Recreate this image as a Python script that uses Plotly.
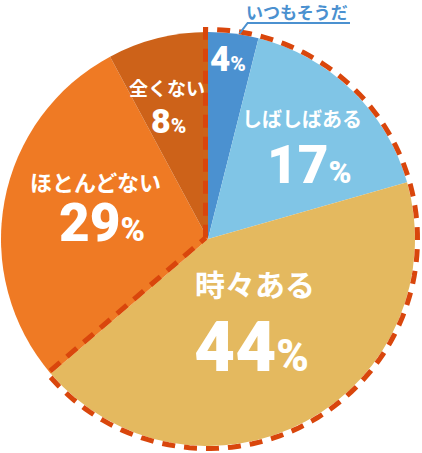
import numpy as np
import plotly.graph_objects as go

W, H = 422, 453

# data (clockwise from 12 o'clock)
labels = ["いつもそうだ", "しばしばある", "時々ある", "ほとんどない", "全くない"]
values = [4, 17, 44, 29, 8]
colors = ["#4b91d0", "#80c5e6", "#e4b95f", "#ef7a24", "#cd6219"]
highlight_n = 3  # first three slices = "ever"

# pie geometry in pixels
CX, CY, R = 208, 239, 207
JP_FONT = "Noto Sans CJK JP"
NUM_FONT = "Roboto, Noto Sans CJK JP"
DASH_COLOR = "#d9460c"
BLUE_TEXT = "#4b91d0"


def px_x(x):
    return x / W


def px_y(y):
    return 1 - y / H


def polar(theta_deg, r, cx=CX, cy=CY):
    t = np.radians(theta_deg)
    return cx + r * np.sin(t), cy - r * np.cos(t)


fig = go.Figure()

fig.add_trace(go.Pie(
    labels=labels,
    values=values,
    sort=False,
    direction="clockwise",
    rotation=0,
    marker=dict(colors=colors, line=dict(width=0)),
    textinfo="none",
    hoverinfo="label+percent",
    domain=dict(x=[(CX - R) / W, (CX + R) / W], y=[1 - (CY + R) / H, 1 - (CY - R) / H]),
    showlegend=False,
))

# dashed outline around the first three slices
total = sum(values)
th1 = 0.0
th2 = 360.0 * sum(values[:highlight_n]) / total
d = 2.5
n1 = np.array([-np.cos(np.radians(th1)), -np.sin(np.radians(th1))])
n2 = np.array([np.cos(np.radians(th2)), np.sin(np.radians(th2))])
P = np.array([CX, CY]) + np.linalg.solve(np.array([n1, n2]), np.array([d, d]))
Rd = R + d
pts = [tuple(P)]
pts.append((CX + d * n1[0] + Rd * np.sin(np.radians(th1)), CY + d * n1[1] - Rd * np.cos(np.radians(th1))))
for th in np.linspace(th1, th2, 120):
    pts.append(polar(th, Rd))
pts.append((CX + d * n2[0] + Rd * np.sin(np.radians(th2)), CY + d * n2[1] - Rd * np.cos(np.radians(th2))))
pts.append(tuple(P))
path = "M " + " L ".join(f"{px_x(x):.5f},{px_y(y):.5f}" for x, y in pts)
fig.add_shape(type="path", path=path, xref="paper", yref="paper", layer="above",
              line=dict(color=DASH_COLOR, width=5, dash="13px,9px"))

# leader line for the smallest slice
mid = 360.0 * values[0] / total * 0.62
sx, sy = polar(mid, R + 1)
fig.add_shape(type="path", xref="paper", yref="paper", layer="above",
              path=f"M {px_x(sx):.5f},{px_y(sy):.5f} L {px_x(sx + 8):.5f},{px_y(23):.5f} L {px_x(350):.5f},{px_y(23):.5f}",
              line=dict(color=BLUE_TEXT, width=2))


def pct(num, big, small):
    return f"<span style='font-size:{big}px'>{num}</span><span style='font-size:{small}px'>%</span>"


# category labels: (text, x, y, size, color)
cat_texts = [
    (labels[0], 297, 12, 17, BLUE_TEXT),
    (labels[1], 302, 120, 20, "white"),
    (labels[2], 255, 285, 30, "white"),
    (labels[3], 95, 182, 22, "white"),
    (labels[4], 167, 89, 19, "white"),
]
for t, x, y, s, c in cat_texts:
    fig.add_annotation(text=t, x=px_x(x), y=px_y(y - 0.055 * s), xref="paper", yref="paper",
                       xanchor="center", yanchor="middle", showarrow=False,
                       font=dict(family=JP_FONT, size=s, color=c, weight="bold"))

# percentages: (value, x, y, digit size, percent size)
pct_texts = [
    (values[0], 228, 59, 35, 21),
    (values[1], 309, 165, 53, 31),
    (values[2], 252, 346, 71, 44),
    (values[3], 102, 223, 53, 33),
    (values[4], 168, 121, 34, 21),
]
for v, x, y, s, ps in pct_texts:
    fig.add_annotation(text=pct(v, s, ps), x=px_x(x), y=px_y(y), xref="paper", yref="paper",
                       xanchor="center", yanchor="middle", showarrow=False,
                       font=dict(family=NUM_FONT, size=s, color="white", weight=900))

fig.update_layout(
    width=W, height=H,
    margin=dict(l=0, r=0, t=0, b=0),
    paper_bgcolor="white",
    plot_bgcolor="white",
)

fig.write_html("out.html", config={"displayModeBar": False},
               post_script="document.body.style.margin='0';")
